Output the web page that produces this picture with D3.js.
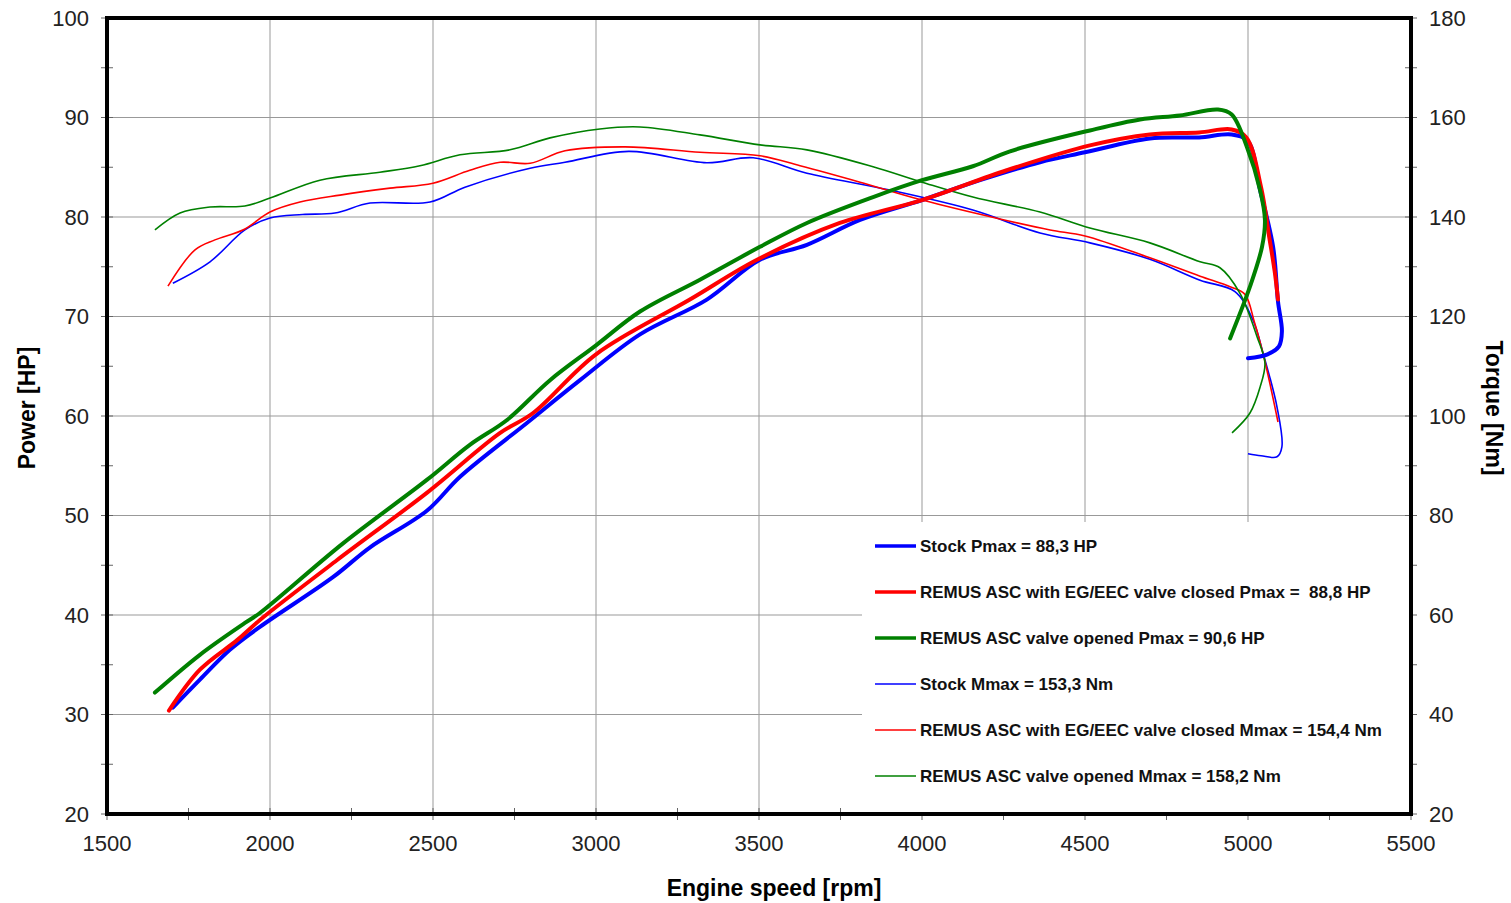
<!DOCTYPE html>
<html>
<head>
<meta charset="utf-8">
<script src="https://cdn.jsdelivr.net/npm/d3@7"></script>
<style>
  body { margin: 0; background: #fff; }
  text { font-family: "Liberation Sans", Arial, sans-serif; }
</style>
</head>
<body>
<div id="chart"></div>
<script>
// chart data: [rpm, value]
var stockPower = [[1702,30.7],[1785,33.5],[1877,36.5],[1969,38.8],[2193,43.8],[2307,46.8],[2482,50.5],[2583,53.9],[2788,59.3],[2951,63.6],[3135,68.2],[3340,71.7],[3503,75.7],[3647,77.2],[3810,79.7],[4000,81.7],[4178,83.7],[4362,85.5],[4500,86.5],[4699,87.9],[4850,88.0],[4950,88.3],[5000,87.6],[5037,82.7],[5077,77.0],[5092,71.5],[5104,68.5],[5095,67.0],[5060,66.2],[5000,65.8]]
var remusClosedPower = [[1690,30.4],[1785,34.5],[1900,37.5],[1969,39.5],[2205,45.5],[2482,52.3],[2706,58.3],[2807,60.3],[3000,66.2],[3288,71.7],[3494,75.7],[3748,79.4],[4000,81.7],[4260,84.7],[4515,87.2],[4699,88.3],[4850,88.5],[4950,88.8],[4995,88.0],[5040,83.0],[5065,78.0],[5082,74.5],[5092,71.7]]
var remusOpenPower = [[1647,32.2],[1785,36.0],[1923,39.2],[1969,40.2],[2224,47.2],[2482,53.6],[2613,57.1],[2727,59.6],[2859,63.6],[3000,67.1],[3135,70.5],[3319,73.7],[3503,77.0],[3647,79.4],[3850,82.0],[4000,83.7],[4156,85.1],[4270,86.6],[4515,88.7],[4669,89.8],[4791,90.2],[4908,90.8],[4950,90.3],[4997,87.0],[5037,82.7],[5052,79.7],[5043,77.0],[5006,73.0],[4945,67.8]]

var stockTorque = [[1702,126.7],[1816,131.0],[1923,137.4],[2000,139.8],[2100,140.5],[2199,140.8],[2307,142.8],[2491,143.0],[2598,146.0],[2798,149.8],[2905,151.0],[3100,153.2],[3340,150.9],[3482,151.9],[3647,148.8],[3902,145.4],[4156,141.4],[4362,136.8],[4515,134.8],[4699,131.5],[4853,127.3],[4960,125.0],[5015,119.3],[5046,112.7],[5089,101.8],[5104,93.8],[5089,91.8],[5040,92.0],[5000,92.4]]
var remusClosedTorque = [[1687,126.1],[1770,133.4],[1831,135.4],[1920,137.5],[2000,141.0],[2092,143.0],[2215,144.4],[2368,145.8],[2500,146.8],[2613,149.4],[2706,151.0],[2798,150.8],[2905,153.3],[3089,154.1],[3319,153.0],[3503,152.3],[3626,150.3],[3810,147.0],[4000,143.4],[4239,139.6],[4393,137.4],[4500,136.2],[4699,131.8],[4853,128.1],[4945,126.0],[4990,124.5],[5020,118.8],[5050,111.5],[5092,98.8]]
var remusOpenTorque = [[1647,137.4],[1724,140.8],[1816,142.0],[1923,142.2],[2000,143.8],[2153,147.4],[2337,149.0],[2460,150.3],[2583,152.5],[2736,153.5],[2859,155.9],[3012,157.7],[3135,158.1],[3319,156.5],[3503,154.5],[3647,153.5],[3850,150.1],[4000,147.0],[4156,144.0],[4362,141.0],[4515,137.8],[4699,134.8],[4853,131.0],[4914,129.8],[4975,124.7],[5028,115.9],[5052,110.6],[5037,105.8],[5006,100.6],[4951,96.6]]

var legendLabels = [
  "Stock Pmax = 88,3 HP",
  "REMUS ASC with EG/EEC valve closed Pmax =  88,8 HP",
  "REMUS ASC valve opened Pmax = 90,6 HP",
  "Stock Mmax = 153,3 Nm",
  "REMUS ASC with EG/EEC valve closed Mmax = 154,4 Nm",
  "REMUS ASC valve opened Mmax = 158,2 Nm"
]
var xTicks = [1500,2000,2500,3000,3500,4000,4500,5000,5500]
var powerTicks = [20,30,40,50,60,70,80,90,100]
var torqueTicks = [20,40,60,80,100,120,140,160,180]

// set the dimensions and margins of the graph
var margin = {top: 18, right: 100, bottom: 89, left: 107},
    width = 1411 - margin.left,
    height = 814 - margin.top;

var svg = d3.select("#chart")
  .append("svg")
    .attr("width", 1511)
    .attr("height", 903)
  .append("g")
    .attr("transform", "translate(" + margin.left + "," + margin.top + ")");

var x = d3.scaleLinear().domain([1500, 5500]).range([0, width]);
var yP = d3.scaleLinear().domain([20, 100]).range([height, 0]);
var yT = d3.scaleLinear().domain([20, 180]).range([height, 0]);

// grid
svg.append("g").selectAll("line").data(xTicks.slice(1, -1)).enter().append("line")
  .attr("x1", d => x(d)).attr("x2", d => x(d)).attr("y1", 0).attr("y2", height)
  .style("stroke", "#999").style("stroke-width", 1);
svg.append("g").selectAll("line").data(powerTicks.slice(1, -1)).enter().append("line")
  .attr("x1", 0).attr("x2", width).attr("y1", d => yP(d)).attr("y2", d => yP(d))
  .style("stroke", "#999").style("stroke-width", 1);

// minor ticks
function minor(lo, hi, step) { var a = []; for (var v = lo; v <= hi; v += step) a.push(v); return a; }
svg.append("g").selectAll("line").data(minor(1500, 5500, 250)).enter().append("line")
  .attr("x1", d => x(d)).attr("x2", d => x(d)).attr("y1", height - 6).attr("y2", height + 6)
  .style("stroke", "#666");
svg.append("g").selectAll("line").data(minor(20, 100, 5)).enter().append("line")
  .attr("x1", -6).attr("x2", 6).attr("y1", d => yP(d)).attr("y2", d => yP(d))
  .style("stroke", "#666");
svg.append("g").selectAll("line").data(minor(20, 180, 10)).enter().append("line")
  .attr("x1", width - 6).attr("x2", width + 6).attr("y1", d => yT(d)).attr("y2", d => yT(d))
  .style("stroke", "#666");

// legend box (covers the grid)
var lg = svg.append("g").attr("transform", "translate(" + (862 - margin.left) + "," + (522 - margin.top) + ")");
lg.append("rect").attr("width", 1409 - 862).attr("height", 812 - 522).style("fill", "#fff");

// lines
var colors = ["#0000ff", "#ff0000", "#008000"];
var powers = [stockPower, remusClosedPower, remusOpenPower];
var torques = [stockTorque, remusClosedTorque, remusOpenTorque];

var lineP = d3.line().x(d => x(d[0])).y(d => yP(d[1])).curve(d3.curveCatmullRom.alpha(0.5));
var lineT = d3.line().x(d => x(d[0])).y(d => yT(d[1])).curve(d3.curveCatmullRom.alpha(0.5));

for (let i = 0; i < 3; i++) {
  svg.append("path").datum(torques[i]).attr("d", lineT)
    .style("fill", "none").style("stroke", colors[i]).style("stroke-width", 1.6);
}
for (let i = 0; i < 3; i++) {
  svg.append("path").datum(powers[i]).attr("d", lineP)
    .style("fill", "none").style("stroke", colors[i]).style("stroke-width", 4).style("stroke-linecap", "round");
}

// legend entries
let y_dot = 546 - 522
for (let i = 0; i < 6; i++) {
  lg.append("line").attr("x1", 13).attr("x2", 54).attr("y1", y_dot).attr("y2", y_dot)
    .style("stroke", colors[i % 3]).style("stroke-width", i < 3 ? 3.5 : 1.5);
  lg.append("text").attr("x", 58).attr("y", y_dot).attr("dy", "0.35em")
    .style("font-size", "17px").style("font-weight", "bold").style("fill", "#111")
    .style("white-space", "pre")
    .text(legendLabels[i]);
  y_dot = y_dot + 46
}

// frame
svg.append("rect").attr("width", width).attr("height", height)
  .style("fill", "none").style("stroke", "#000").style("stroke-width", 4);

// tick labels
svg.append("g").selectAll("text").data(xTicks).enter().append("text")
  .attr("x", d => x(d)).attr("y", height + 37).attr("text-anchor", "middle")
  .style("font-size", "22px").style("fill", "#222").text(d => d);
svg.append("g").selectAll("text").data(powerTicks).enter().append("text")
  .attr("x", -18).attr("y", d => yP(d)).attr("dy", "0.35em").attr("text-anchor", "end")
  .style("font-size", "22px").style("fill", "#222").text(d => d);
svg.append("g").selectAll("text").data(torqueTicks).enter().append("text")
  .attr("x", width + 18).attr("y", d => yT(d)).attr("dy", "0.35em").attr("text-anchor", "start")
  .style("font-size", "22px").style("fill", "#222").text(d => d);

// axis titles
svg.append("text").attr("x", 774 - margin.left).attr("y", 888 - margin.top).attr("dy", "0.35em")
  .attr("text-anchor", "middle").style("font-size", "23px").style("font-weight", "bold")
  .text("Engine speed [rpm]");
svg.append("text").attr("transform", "translate(" + (27 - margin.left) + "," + (408 - margin.top) + ")rotate(-90)")
  .attr("dy", "0.35em").attr("text-anchor", "middle").style("font-size", "23px").style("font-weight", "bold")
  .text("Power [HP]");
svg.append("text").attr("transform", "translate(" + (1494 - margin.left) + "," + (408 - margin.top) + ")rotate(90)")
  .attr("dy", "0.35em").attr("text-anchor", "middle").style("font-size", "23px").style("font-weight", "bold")
  .text("Torque [Nm]");
</script>
</body>
</html>
